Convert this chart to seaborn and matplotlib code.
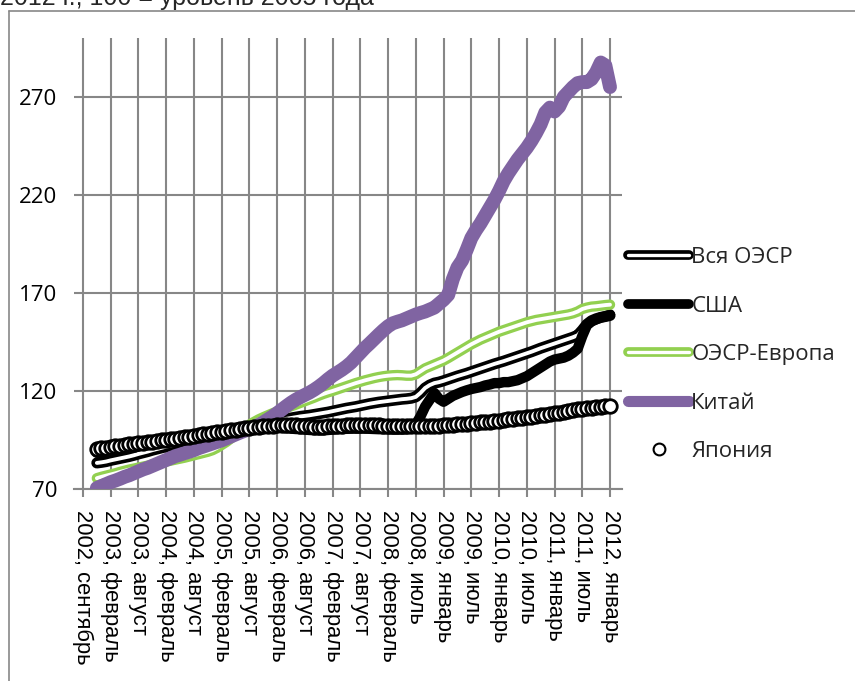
import numpy as np
import pandas as pd
import matplotlib
matplotlib.use("Agg")
import matplotlib.pyplot as plt
import matplotlib.patheffects as pe
from matplotlib.lines import Line2D
import seaborn as sns

# Category labels shown on the horizontal axis (one every 6 monthly points)
tick_labels = [
    "2002, сентябрь", "2003, февраль", "2003, август", "2004, февраль",
    "2004, август", "2005, февраль", "2005, август", "2006, февраль",
    "2006, август", "2007, февраль", "2007, август", "2008, февраль",
    "2008, июль", "2009, январь", "2009, июль", "2010, январь",
    "2010, июль", "2011, январь", "2011, июль", "2012, январь",
]
label_step = 6
first_point = 3  # data begins on the 4th monthly category

series_names = ["Вся ОЭСР", "США", "ОЭСР-Европа", "Китай", "Япония"]

oecd_all = [
    83.3, 83.6, 84.0, 84.6, 85.1, 85.6, 86.1, 86.6, 87.2, 87.9,
    88.5, 89.1, 89.8, 90.4, 91.0, 91.6, 92.2, 92.8, 93.4, 93.9,
    94.4, 95.0, 95.6, 96.2, 96.8, 97.4, 98.0, 98.5, 99.0, 99.6,
    100.2, 100.8, 101.3, 101.8, 102.3, 102.8, 103.3, 103.8, 104.3, 104.8,
    105.3, 105.8, 106.2, 106.6, 107.0, 107.3, 107.6, 108.0, 108.4, 108.8,
    109.2, 109.7, 110.2, 110.7, 111.2, 111.6, 112.0, 112.5, 113.0, 113.5,
    113.9, 114.3, 114.6, 114.9, 115.2, 115.5, 115.8, 116.0, 116.3, 117.0,
    119.0, 121.5, 123.0, 124.0, 124.5, 125.2, 126.0, 126.8, 127.6, 128.3,
    129.0, 129.8, 130.6, 131.4, 132.2, 133.0, 133.8, 134.5, 135.2, 136.0,
    136.8, 137.6, 138.4, 139.2, 140.0, 140.9, 141.8, 142.6, 143.4, 144.2,
    145.0, 145.8, 146.6, 147.4, 148.4, 151.0, 154.0, 155.8, 156.8, 157.5,
    158.0, 158.5,
]

usa = [
    88.5, 88.8, 89.2, 89.6, 90.0, 90.4, 90.8, 91.2, 91.5, 92.0,
    92.3, 92.7, 93.0, 93.4, 93.7, 94.0, 94.4, 94.7, 95.0, 95.4,
    95.8, 96.2, 96.6, 97.0, 97.4, 97.8, 98.2, 98.6, 99.0, 99.4,
    99.8, 100.2, 100.5, 100.8, 101.0, 101.2, 101.3, 101.4, 101.4, 101.3,
    101.2, 101.0, 100.8, 100.6, 100.5, 100.3, 100.1, 100.0, 99.9, 99.9,
    100.1, 100.3, 100.5, 100.6, 100.7, 100.8, 100.8, 100.8, 100.8, 100.7,
    100.6, 100.5, 100.5, 100.4, 100.3, 100.3, 100.3, 100.4, 101.0, 103.0,
    107.0, 112.0, 115.5, 119.0, 116.0, 114.5, 116.0, 117.5, 118.5, 119.5,
    120.3, 121.0, 121.5, 122.0, 122.8, 123.3, 124.0, 124.0, 124.5, 124.5,
    125.0, 125.5, 126.5, 127.5, 129.0, 130.5, 132.0, 133.5, 135.0, 136.0,
    136.5, 137.0, 138.0, 139.5, 141.5, 148.0, 153.5, 155.5, 156.5, 157.5,
    158.0, 159.0,
]

oecd_europe = [
    75.5, 76.2, 76.8, 77.4, 78.0, 78.7, 79.3, 79.9, 80.4, 80.9,
    81.4, 81.9, 82.5, 83.0, 83.5, 84.0, 84.5, 85.0, 85.5, 86.0,
    86.6, 87.2, 87.8, 88.4, 89.0, 89.8, 91.0, 92.5, 94.0, 95.8,
    97.6, 99.5, 101.3, 102.8, 104.2, 105.5, 106.6, 107.6, 108.6, 109.5,
    110.4, 111.3, 112.2, 113.0, 113.9, 114.8, 115.7, 116.6, 117.6, 118.5,
    119.3, 120.0, 120.8, 121.6, 122.4, 123.2, 124.0, 124.7, 125.4, 126.0,
    126.6, 127.1, 127.5, 127.8, 128.0, 128.1, 128.0, 127.8, 127.8, 128.5,
    130.0, 131.5, 132.5, 133.5, 134.5, 135.5, 136.8, 138.2, 139.6, 141.0,
    142.4, 143.8, 145.0, 146.2, 147.2, 148.2, 149.2, 150.2, 151.0, 151.8,
    152.6, 153.4, 154.2, 155.0, 155.6, 156.2, 156.6, 157.0, 157.4, 157.8,
    158.2, 158.6, 159.0, 159.6, 160.5, 161.8, 162.5, 163.0, 163.2, 163.5,
    163.8, 164.0,
]

china = [
    70.5, 71.5, 72.5, 73.5, 74.3, 75.2, 76.2, 77.0, 78.0, 79.0,
    80.0, 80.8, 81.8, 82.8, 83.8, 84.8, 85.8, 86.8, 87.5, 88.3,
    89.0, 89.8, 90.8, 91.6, 92.4, 93.2, 94.0, 94.8, 95.8, 96.8,
    97.8, 98.8, 99.7, 100.5, 101.5, 102.7, 104.0, 105.5, 107.0, 108.7,
    110.5, 112.3, 114.0, 115.5, 116.8, 118.0, 119.2, 120.6, 122.2, 124.0,
    126.0, 127.8, 129.3, 130.8, 132.5, 134.5, 137.0, 139.5, 142.0, 144.2,
    146.5, 148.8, 151.0, 153.0, 154.5, 155.3, 156.0, 157.0, 158.0, 159.0,
    159.8, 160.5, 161.5, 162.5, 164.5, 166.5, 169.0, 177.0, 183.0, 186.5,
    192.0, 198.0, 202.0, 205.5, 209.5, 213.5, 217.5, 222.0, 227.0, 231.0,
    234.5, 238.0, 241.0, 244.0, 247.5, 251.5, 256.0, 262.0, 264.5, 262.5,
    265.0, 270.0, 272.5, 275.0, 277.0, 277.5, 277.5, 279.0, 282.5, 287.5,
    286.0, 275.0,
]

japan = [
    90.5, 91.0, 91.0, 91.5, 92.0, 92.0, 92.5, 92.8, 93.0, 93.5,
    93.5, 94.0, 94.2, 94.5, 94.8, 95.0, 95.3, 95.6, 96.0, 96.3,
    96.7, 97.0, 97.5, 97.8, 98.2, 98.6, 99.0, 99.3, 99.6, 100.0,
    100.3, 100.6, 101.0, 101.3, 101.6, 101.8, 102.0, 102.2, 102.3, 102.5,
    102.6, 102.6, 102.6, 102.5, 102.3, 102.2, 102.0, 101.8, 101.7, 101.8,
    102.0, 102.0, 102.2, 102.3, 102.5, 102.5, 102.6, 102.6, 102.6, 102.5,
    102.5, 102.4, 102.3, 102.2, 102.2, 102.1, 102.0, 102.0, 102.0, 102.0,
    102.0, 102.0, 102.1, 102.2, 102.3, 102.5, 102.6, 102.8, 103.0, 103.2,
    103.4, 103.6, 103.8, 104.0, 104.2, 104.4, 104.6, 104.9, 105.2, 105.5,
    105.7, 106.0, 106.3, 106.6, 106.9, 107.2, 107.5, 107.8, 108.2, 108.6,
    109.0, 109.4, 109.8, 110.2, 110.6, 110.9, 111.2, 111.5, 111.8, 112.0,
    112.2, 112.5,
]

y_ticks = [70, 120, 170, 220, 270]

purple = "#8064A2"
green = "#92D050"
grid_grey = "#878787"

df = pd.DataFrame({
    "pos": np.arange(first_point, first_point + len(china)),
    "oecd_all": oecd_all,
    "usa": usa,
    "oecd_europe": oecd_europe,
    "china": china,
    "japan": japan,
})

sns.set_theme(style="white")
plt.rcParams["font.family"] = ["Liberation Sans", "DejaVu Sans"]

W, H = 855, 681
fig = plt.figure(figsize=(W / 100, H / 100), dpi=100)
ax = fig.add_axes([74 / W, 1 - 489 / H, (622 - 74) / W, (489 - 38) / H])

round_kw = dict(solid_capstyle="round", solid_joinstyle="round")

# Whole OECD: white core with black outline
sns.lineplot(data=df, x="pos", y="oecd_all", ax=ax, color="white", lw=2.8,
             path_effects=[pe.Stroke(linewidth=8, foreground="black"), pe.Normal()],
             zorder=3, **round_kw)
# USA: thick black
sns.lineplot(data=df, x="pos", y="usa", ax=ax, color="black", lw=7.5, zorder=3, **round_kw)
# OECD Europe: white core with green outline
sns.lineplot(data=df, x="pos", y="oecd_europe", ax=ax, color="white", lw=2.8,
             path_effects=[pe.Stroke(linewidth=7.5, foreground=green), pe.Normal()],
             zorder=3, **round_kw)
# China: thick purple
sns.lineplot(data=df, x="pos", y="china", ax=ax, color=purple, lw=10, zorder=3, **round_kw)
# Japan: hollow circle markers
sns.scatterplot(data=df, x="pos", y="japan", ax=ax, marker="o", s=95,
                facecolor="white", edgecolor="black", linewidth=2.0, zorder=4)

ax.set_xlim(-9 / 4.623, 114 + 12 / 4.623)
ax.set_ylim(70, 300)
ax.set_xticks(np.arange(0, label_step * len(tick_labels), label_step))
ax.set_xticklabels(tick_labels, rotation=-90, ha="center", va="top",
                   fontsize=15.8, family=["Liberation Sans", "DejaVu Sans"])
ax.set_yticks(y_ticks)
ax.set_yticklabels([str(v) for v in y_ticks], fontsize=16,
                   family=["Open Sans", "DejaVu Sans"])
ax.set_xlabel("")
ax.set_ylabel("")

ax.grid(True, color=grid_grey, lw=1.5, zorder=0)
ax.set_axisbelow(True)
for side in ("left", "top", "right"):
    ax.spines[side].set_visible(False)
ax.spines["bottom"].set_color(grid_grey)
ax.spines["bottom"].set_linewidth(1.5)
ax.tick_params(axis="y", length=0, pad=12, colors="black")
ax.tick_params(axis="x", direction="out", length=6, width=1.5, color=grid_grey,
               pad=9, bottom=True, labelcolor="black")

handles = [
    Line2D([], [], color="white", lw=2.4, solid_capstyle="round",
           path_effects=[pe.Stroke(linewidth=7, foreground="black"), pe.Normal()]),
    Line2D([], [], color="black", lw=7, solid_capstyle="round"),
    Line2D([], [], color="white", lw=2.4, solid_capstyle="round",
           path_effects=[pe.Stroke(linewidth=7, foreground=green), pe.Normal()]),
    Line2D([], [], color=purple, lw=8, solid_capstyle="round"),
    Line2D([], [], ls="none", marker="o", markersize=8.5, mfc="white",
           mec="black", mew=1.5),
]
fig.legend(handles, series_names, loc="upper left",
           bbox_to_anchor=(628 / W, 1 - 247 / H), frameon=False,
           handlelength=2.75, handletextpad=0.1, labelspacing=1.24,
           borderpad=0, borderaxespad=0, numpoints=1,
           prop={"family": ["Open Sans", "DejaVu Sans"], "size": 16})

# Chart area frame
fig.add_artist(Line2D([9 / W, 9 / W], [0, 1 - 11 / H], transform=fig.transFigure,
                      color=grid_grey, lw=1.2))
fig.add_artist(Line2D([9 / W, 1], [1 - 11 / H, 1 - 11 / H], transform=fig.transFigure,
                      color=grid_grey, lw=1.2))

fig.text(0, 1 - 5 / H, "2012 г., 100 = уровень 2005 года", ha="left", va="baseline",
         fontsize=18, family=["Liberation Sans", "DejaVu Sans"])

fig.savefig("out.png", dpi=100)
